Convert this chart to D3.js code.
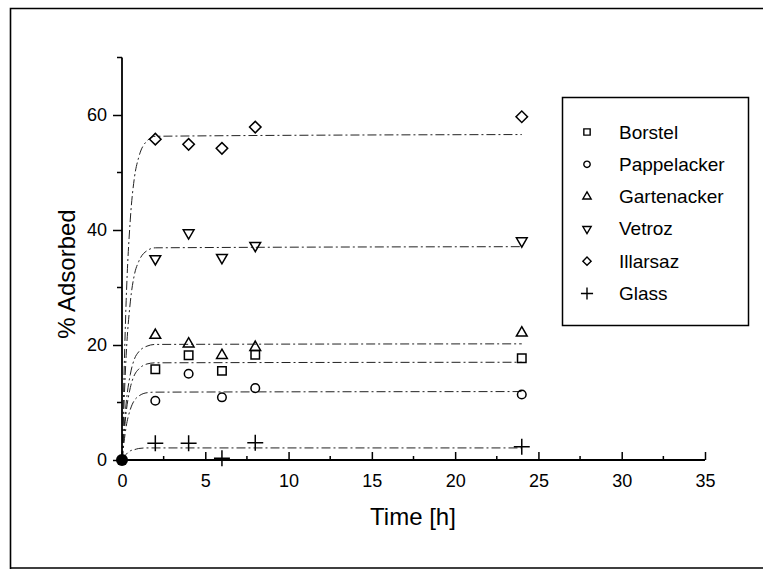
<!DOCTYPE html>
<html>
<head>
<meta charset="utf-8">
<script src="https://cdn.jsdelivr.net/npm/d3@7/dist/d3.min.js"></script>
<style>
  html, body { margin: 0; padding: 0; background: #fff; }
  svg { display: block; font-family: "Liberation Sans", Arial, Helvetica, sans-serif; }
</style>
</head>
<body>
<svg id="chart" width="763" height="570"></svg>
<script>
// ---- data ----
const times = [2, 4, 6, 8, 24];
const borstel     = [15.8, 18.2, 15.5, 18.3, 17.7];
const pappelacker = [10.3, 15.0, 10.9, 12.5, 11.4];
const gartenacker = [21.7, 20.2, 18.2, 19.6, 22.1];
const vetroz      = [35.0, 39.5, 35.2, 37.3, 38.1];
const illarsaz    = [55.8, 54.9, 54.2, 57.9, 59.7];
const glass       = [2.9, 2.9, 0.3, 3.0, 2.3];

// fitted curves
const fitTimes = [0, 0.25, 0.5, 0.75, 1, 1.5, 2, 24];
const borstelFit     = [0, 8.3, 12.6, 14.8, 15.8, 16.7, 16.9, 17.0];
const pappelackerFit = [0, 5.8, 8.8, 10.4, 11.1, 11.7, 11.8, 11.9];
const gartenackerFit = [0, 9.9, 14.9, 17.6, 18.8, 19.8, 20.1, 20.2];
const vetrozFit      = [0, 18.2, 27.5, 32.3, 34.5, 36.4, 36.9, 37.1];
const illarsazFit    = [0, 27.7, 41.9, 49.2, 52.6, 55.5, 56.3, 56.6];
const glassFit       = [0, 1.0, 1.6, 1.8, 2.0, 2.1, 2.1, 2.1];

const seriesNames = ["Borstel", "Pappelacker", "Gartenacker", "Vetroz", "Illarsaz", "Glass"];
const xTicks = [0, 5, 10, 15, 20, 25, 30, 35];
const yTicks = [0, 20, 40, 60];
const origin = [0, 0];

const seriesValues = [borstel, pappelacker, gartenacker, vetroz, illarsaz, glass];
const seriesFits = [borstelFit, pappelackerFit, gartenackerFit, vetrozFit, illarsazFit, glassFit];

// ---- layout ----
const svg = d3.select("#chart");
const x = d3.scaleLinear().domain([0, 35]).range([122, 705]);
const y = d3.scaleLinear().domain([0, 70]).range([460, 57.5]);

// outer frame
svg.append("path")
  .attr("d", "M763,8.5 H10.5 V569 M10.5,568 H763")
  .attr("fill", "none").attr("stroke", "#000").attr("stroke-width", 1.6);

// symbol makers
const symbols = [
  {type: d3.symbolSquare, size: 72, rot: 0, lsize: 40},
  {type: d3.symbolCircle, size: 58, rot: 0, lsize: 32},
  {type: d3.symbolTriangle, size: 50, rot: 0, lsize: 30},
  {type: d3.symbolTriangle, size: 50, rot: 180, lsize: 30},
  {type: d3.symbolSquare, size: 66, rot: 45, lsize: 34},
  {type: d3.symbolPlus, size: 85, rot: 0, lsize: 50}
];

// fitted lines
const line = d3.line()
  .x(d => x(d[0])).y(d => y(d[1]))
  .curve(d3.curveMonotoneX);

seriesFits.forEach(f => {
  svg.append("path")
    .datum(fitTimes.map((t, i) => [t, f[i]]))
    .attr("d", line)
    .attr("fill", "none")
    .attr("stroke", "#222")
    .attr("stroke-width", 1)
    .attr("stroke-dasharray", "9,3,2,3");
});

// axes
const yAxis = d3.axisLeft(y).tickValues(yTicks).tickSize(9).tickPadding(6).tickFormat(d3.format("d"));
const gy = svg.append("g").attr("transform", `translate(${x(0)},0)`).call(yAxis);
gy.select(".domain").attr("d", `M0,${y(0)}V${y(70)}`).attr("stroke-width", 1.8);
gy.selectAll(".tick line").attr("stroke-width", 1.5);
gy.selectAll("text").attr("font-size", 18).attr("font-family", "Liberation Sans, Arial, sans-serif");

// minor y ticks
const minorY = [10, 30, 50, 70];
svg.append("g").selectAll("line").data(minorY).join("line")
  .attr("x1", x(0) - 5).attr("x2", x(0))
  .attr("y1", d => y(d)).attr("y2", d => y(d))
  .attr("stroke", "#000").attr("stroke-width", 1.5);

const xAxis = d3.axisBottom(x).tickValues(xTicks).tickSize(-8).tickPadding(14).tickFormat(d3.format("d"));
const gx = svg.append("g").attr("transform", `translate(0,${y(0)})`).call(xAxis);
gx.select(".domain").attr("d", `M${x(0)},0H${x(35)}`).attr("stroke-width", 1.8);
gx.selectAll(".tick line").attr("stroke-width", 1.5);
gx.selectAll("text").attr("font-size", 18).attr("font-family", "Liberation Sans, Arial, sans-serif");

// minor x ticks
const minorX = [2.5, 7.5, 12.5, 17.5, 22.5, 27.5, 32.5];
svg.append("g").selectAll("line").data(minorX).join("line")
  .attr("x1", d => x(d)).attr("x2", d => x(d))
  .attr("y1", y(0)).attr("y2", y(0) - 4)
  .attr("stroke", "#000").attr("stroke-width", 1.5);

// axis titles
svg.append("text")
  .attr("x", 413).attr("y", 525)
  .attr("text-anchor", "middle")
  .attr("font-size", 24)
  .text("Time [h]");

svg.append("text")
  .attr("transform", "translate(75,274) rotate(-90)")
  .attr("text-anchor", "middle")
  .attr("font-size", 24)
  .text("% Adsorbed");

// data markers
seriesValues.forEach((vals, si) => {
  const s = symbols[si];
  const gen = d3.symbol().type(s.type).size(s.size);
  svg.append("g").selectAll("path").data(times.map((t, i) => [t, vals[i]])).join("path")
    .attr("d", gen)
    .attr("transform", d => `translate(${x(d[0])},${y(d[1])}) rotate(${s.rot})`)
    .attr("fill", "none")
    .attr("stroke", "#000")
    .attr("stroke-width", 1.5);
});

// overlapping points at the origin
svg.append("circle")
  .attr("cx", x(origin[0])).attr("cy", y(origin[1]))
  .attr("r", 6).attr("fill", "#000");

// legend
const lg = svg.append("g");
lg.append("rect")
  .attr("x", 562.5).attr("y", 97.5).attr("width", 186).attr("height", 228)
  .attr("fill", "#fff").attr("stroke", "#000").attr("stroke-width", 1.5);

seriesNames.forEach((name, i) => {
  const cy = 132 + i * 32.3;
  const s = symbols[i];
  lg.append("path")
    .attr("d", d3.symbol().type(s.type).size(s.lsize)())
    .attr("transform", `translate(587,${cy}) rotate(${s.rot})`)
    .attr("fill", "none").attr("stroke", "#000").attr("stroke-width", 1.4);
  lg.append("text")
    .attr("x", 619).attr("y", cy + 6.5)
    .attr("font-size", 19)
    .text(name);
});
</script>
</body>
</html>
